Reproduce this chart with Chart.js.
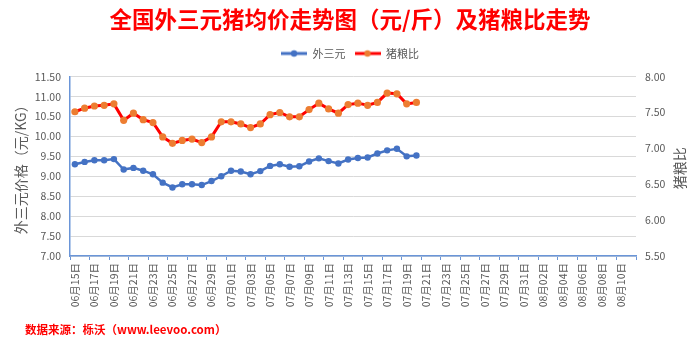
<!DOCTYPE html>
<html>
<head>
<meta charset="utf-8">
<script src="https://cdn.jsdelivr.net/npm/chart.js@4/dist/chart.umd.min.js"></script>
<style>
  html, body { margin: 0; padding: 0; background: #ffffff; }
  #wrap { width: 700px; height: 341px; }
</style>
</head>
<body>
<div id="wrap"><canvas id="c" width="700" height="341"></canvas></div>
<script>
// Daily categories (two-day label interval on the axis)
const categories = [
  '06月15日','06月16日','06月17日','06月18日','06月19日','06月20日','06月21日','06月22日',
  '06月23日','06月24日','06月25日','06月26日','06月27日','06月28日','06月29日','06月30日',
  '07月01日','07月02日','07月03日','07月04日','07月05日','07月06日','07月07日','07月08日',
  '07月09日','07月10日','07月11日','07月12日','07月13日','07月14日','07月15日','07月16日',
  '07月17日','07月18日','07月19日','07月20日','07月21日','07月22日','07月23日','07月24日',
  '07月25日','07月26日','07月27日','07月28日','07月29日','07月30日','07月31日','08月01日',
  '08月02日','08月03日','08月04日','08月05日','08月06日','08月07日','08月08日','08月09日',
  '08月10日','08月11日'
];

// 外三元 average price (元/KG), left axis
const pigPrice = [
  9.30, 9.36, 9.40, 9.40, 9.43, 9.17, 9.21, 9.14, 9.05, 8.84, 8.72, 8.80,
  8.80, 8.78, 8.88, 9.00, 9.14, 9.12, 9.05, 9.13, 9.26, 9.30, 9.24, 9.25,
  9.37, 9.45, 9.38, 9.32, 9.42, 9.46, 9.47, 9.57, 9.65, 9.69, 9.50, 9.52
];

// 猪粮比 (hog-to-grain ratio), right axis
const hogGrainRatio = [
  7.51, 7.56, 7.59, 7.60, 7.62, 7.39, 7.49, 7.40, 7.36, 7.16, 7.07, 7.11,
  7.13, 7.08, 7.16, 7.37, 7.37, 7.34, 7.29, 7.34, 7.47, 7.50, 7.44, 7.44,
  7.54, 7.63, 7.55, 7.49, 7.61, 7.63, 7.60, 7.64, 7.77, 7.76, 7.62, 7.64
];

// Axis ranges
const priceAxis = { min: 7.0, max: 11.5, step: 0.5 };
const ratioAxis = { min: 5.5, max: 8.0, step: 0.5 };

const seriesNames = ['外三元', '猪粮比'];
const titleText = '全国外三元猪均价走势图（元/斤）及猪粮比走势';
const leftAxisTitle = '外三元价格（元/KG）';
const rightAxisTitle = '猪粮比';
const sourceText = '数据来源：栎沃（www.leevoo.com）';

const FONT = "'Noto Sans CJK SC', 'Noto Sans', sans-serif";
const GREY = '#595959';
const AXIS_BLUE = '#6a95d8';

// Legend swatch: short line with a marker in the middle
function makeSwatch(lineColor, dotColor, lw, r) {
  const cv = document.createElement('canvas');
  cv.width = 26; cv.height = 10;
  const g = cv.getContext('2d');
  g.strokeStyle = lineColor; g.lineWidth = lw;
  g.beginPath(); g.moveTo(0, 5); g.lineTo(26, 5); g.stroke();
  g.fillStyle = dotColor;
  g.beginPath(); g.arc(13, 5, r, 0, Math.PI * 2); g.fill();
  return cv;
}
const swatches = [
  makeSwatch('#4472C4', '#4472C4', 3, 3.2),
  makeSwatch('#FF0000', '#ED7D31', 3, 3.2)
];

// Extra room below the legend so the plot starts lower
const legendSpacing = {
  id: 'legendSpacing',
  beforeInit(chart) {
    const fit = chart.legend.fit;
    chart.legend.fit = function () {
      fit.bind(chart.legend)();
      this.height = 37.6;
    };
  }
};

// Right axis title (reads bottom-to-top) and data source line
const extraText = {
  id: 'extraText',
  afterDraw(chart) {
    const ctx = chart.ctx;
    const area = chart.chartArea;
    ctx.save();
    ctx.fillStyle = GREY;
    ctx.font = '14px ' + FONT;
    ctx.textAlign = 'center';
    ctx.textBaseline = 'middle';
    ctx.translate(680, (area.top + area.bottom) / 2 + 2);
    ctx.rotate(-Math.PI / 2);
    ctx.fillText(rightAxisTitle, 0, 0);
    ctx.restore();

    ctx.save();
    ctx.fillStyle = '#FF0000';
    ctx.font = 'bold 11.5px ' + FONT;
    ctx.textAlign = 'left';
    ctx.textBaseline = 'middle';
    ctx.fillText(sourceText, 25, 330);
    ctx.restore();
  }
};

new Chart(document.getElementById('c'), {
  type: 'line',
  data: {
    labels: categories,
    datasets: [
      {
        label: seriesNames[0],
        data: pigPrice,
        yAxisID: 'y',
        borderColor: '#4472C4',
        backgroundColor: '#4472C4',
        pointBackgroundColor: '#4472C4',
        pointBorderColor: '#4472C4',
        borderWidth: 2.5,
        pointRadius: 3.2,
        pointBorderWidth: 0,
        pointHoverRadius: 3.2,
        tension: 0
      },
      {
        label: seriesNames[1],
        data: hogGrainRatio,
        yAxisID: 'y1',
        borderColor: '#FF0000',
        backgroundColor: '#ED7D31',
        pointBackgroundColor: '#ED7D31',
        pointBorderColor: '#ED7D31',
        borderWidth: 3,
        pointRadius: 3.6,
        pointBorderWidth: 0,
        pointHoverRadius: 3.6,
        tension: 0
      }
    ]
  },
  options: {
    responsive: false,
    animation: false,
    events: [],
    layout: { padding: 0 },
    plugins: {
      tooltip: { enabled: false },
      title: {
        display: true,
        text: titleText,
        color: '#FF0000',
        font: { family: FONT, size: 22.5, weight: 'bold' },
        padding: { top: 6, bottom: 6 }
      },
      legend: {
        display: true,
        position: 'top',
        labels: {
          usePointStyle: true,
          pointStyleWidth: 26,
          padding: 9,
          color: GREY,
          font: { family: FONT, size: 11 },
          generateLabels(chart) {
            const items = Chart.defaults.plugins.legend.labels.generateLabels(chart);
            items.forEach((it, i) => { it.pointStyle = swatches[i]; });
            return items;
          }
        }
      }
    },
    scales: {
      x: {
        type: 'category',
        offset: true,
        afterFit(scale) { scale.height = 85; },
        grid: {
          offset: true,
          drawOnChartArea: false,
          drawTicks: true,
          tickLength: 4,
          color: (c) => (c.type === 'scale' || c.index % 2 === 0) ? AXIS_BLUE : 'rgba(0,0,0,0)',
          tickColor: (c) => (c.type === 'scale' || c.index % 2 === 0) ? AXIS_BLUE : 'rgba(0,0,0,0)'
        },
        border: { display: true, color: AXIS_BLUE, width: 1.5 },
        ticks: {
          autoSkip: false,
          maxRotation: 90,
          minRotation: 90,
          padding: 3,
          color: GREY,
          font: { family: FONT, size: 10.5 },
          callback(value, index) {
            return index % 2 === 0 ? this.getLabelForValue(value) : '';
          }
        }
      },
      y: {
        position: 'left',
        min: priceAxis.min,
        max: priceAxis.max,
        afterFit(scale) { scale.width = 70; },
        grid: { color: '#d9d9d9', lineWidth: 1, drawTicks: false },
        border: { display: true, color: AXIS_BLUE, width: 1.5 },
        ticks: {
          stepSize: priceAxis.step,
          padding: 9,
          color: GREY,
          font: { family: FONT, size: 10.5 },
          callback: (v) => Number(v).toFixed(2)
        },
        title: {
          display: true,
          text: leftAxisTitle,
          color: GREY,
          font: { family: FONT, size: 14 },
          padding: { top: 12, bottom: 0 }
        }
      },
      y1: {
        position: 'right',
        min: ratioAxis.min,
        max: ratioAxis.max,
        afterFit(scale) { scale.width = 64; },
        grid: { drawOnChartArea: false, drawTicks: false },
        border: { display: false },
        ticks: {
          stepSize: ratioAxis.step,
          padding: 9,
          color: GREY,
          font: { family: FONT, size: 10.5 },
          callback: (v) => Number(v).toFixed(2)
        }
      }
    }
  },
  plugins: [legendSpacing, extraText]
});
</script>
</body>
</html>
